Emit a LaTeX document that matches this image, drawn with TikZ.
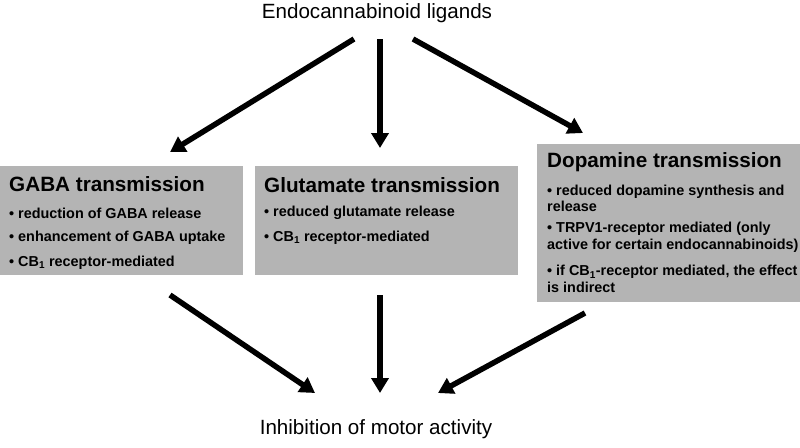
\documentclass[tikz,border=0pt]{standalone}
\usepackage{fontspec}
\setmainfont{Liberation Sans}
\usetikzlibrary{arrows.meta}
\definecolor{boxgray}{RGB}{180,180,180}
\tikzset{
  bigarrow/.style={line width=5.5pt, -{Triangle[length=15pt,width=17pt]}},
  graybox/.style={fill=boxgray, draw=none, anchor=north west, inner sep=0pt},
  boxtitle/.style={anchor=west, inner sep=0pt, font=\bfseries\fontsize{20.7}{24}\selectfont},
  bullet/.style={anchor=west, inner sep=0pt, font=\bfseries\fontsize{14.4}{16.5}\selectfont, align=left},
  plain/.style={inner sep=0pt, font=\fontsize{20.6}{24}\selectfont}
}
\newcommand{\cbone}{CB\textsubscript{1}}
\begin{document}
\begin{tikzpicture}[x=1pt,y=-1pt]
\useasboundingbox (0,0) rectangle (800,447);
% top / bottom labels
\node[plain] (lig) at (377,13) {Endocannabinoid ligands};
\node[plain] (inh) at (376,429) {Inhibition of motor activity};
% boxes
\node[graybox, minimum width=243pt, minimum height=109pt] (gaba) at (0,166) {};
\node[graybox, minimum width=263pt, minimum height=109pt] (glu) at (255,166) {};
\node[graybox, minimum width=263pt, minimum height=158pt] (dop) at (537,144) {};
% GABA text
\node[boxtitle] (gt) at (9,184) {GABA transmission};
\node[bullet] (g1) at (9,213) {• reduction of GABA release};
\node[bullet] (g2) at (9,238) {• enhancement of GABA uptake};
\node[bullet] (g3) at (9,263) {• \cbone{} receptor-mediated};
% Glutamate text
\node[boxtitle] (lt) at (264,185) {Glutamate transmission};
\node[bullet] (l1) at (264,213) {• reduced glutamate release};
\node[bullet] (l2) at (264,238) {• \cbone{} receptor-mediated};
% Dopamine text
\node[boxtitle] (dt) at (547,162) {Dopamine transmission};
\node[bullet] (d1) at (547,198.5) {• reduced dopamine synthesis and\\release};
\node[bullet] (d2) at (547,237.5) {• TRPV1-receptor mediated (only\\active for certain endocannabinoids)};
\node[bullet] (d3) at (547,279) {• if \cbone{}-receptor mediated, the effect\\is indirect};
% arrow end points
\coordinate (s1) at (354,39);
\coordinate (s2) at (380,39);
\coordinate (s3) at (413,39);
\coordinate (e1) at (170,152);
\coordinate (e2) at (380,148);
\coordinate (e3) at (583,133);
\coordinate (b1) at (170,295);
\coordinate (b2) at (380,295);
\coordinate (b3) at (585,313);
\coordinate (t1) at (315,393);
\coordinate (t2) at (380,393);
\coordinate (t3) at (438,393);
\draw[bigarrow] (s1) -- (e1);
\draw[bigarrow] (s2) -- (e2);
\draw[bigarrow] (s3) -- (e3);
\draw[bigarrow] (b1) -- (t1);
\draw[bigarrow] (b2) -- (t2);
\draw[bigarrow] (b3) -- (t3);
\end{tikzpicture}
\end{document}
